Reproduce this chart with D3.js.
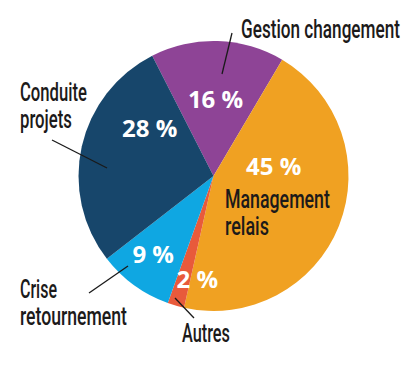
<!DOCTYPE html>
<html>
<head>
<meta charset="utf-8">
<script src="https://cdn.jsdelivr.net/npm/d3@7"></script>
<style>
  html, body { margin: 0; padding: 0; background: #ffffff; }
  svg { display: block; }
</style>
</head>
<body>
<svg id="chart" width="411" height="365"></svg>
<script>
// ---- Data ----
const categories = ["Gestion changement", "Management relais", "Autres", "Crise retournement", "Conduite projets"];
const values = [16, 45, 2, 9, 28];
const percentLabels = ["16 %", "45 %", "2 %", "9 %", "28 %"];
const colors = ["#8e4496", "#f0a122", "#e85a3b", "#0fa7e2", "#17466b"];

// ---- Layout (annotation placement, not data) ----
const cx = 213.5, cy = 176, R = 135;
const startDeg = -27;
// percent label placement: [angle deg clockwise from 12 o'clock, radius]
const pctPos = [[1.5, 78], [80.5, 61], [189, 104], [218, 98], [307, 80]];
// category labels: lines, x, first baseline, target widths per line
const catLabel = [
  { lines: ["Gestion changement"], x: 241, y: 38, widths: [159] },
  { lines: ["Management", "relais"], x: 225, y: 208, widths: [105, 44] },
  { lines: ["Autres"], x: 182, y: 342, widths: [48] },
  { lines: ["Crise", "retournement"], x: 20, y: 298, widths: [37, 107] },
  { lines: ["Conduite", "projets"], x: 20, y: 101, widths: [67, 52] }
];
const lineH = 27;
// leader lines [x1,y1,x2,y2] (null = none)
const leaders = [
  [232, 33, 222, 74],
  null,
  [194, 318, 175, 298],
  [89, 293, 128, 266],
  [52, 140, 107, 168]
];

const svg = d3.select("#chart");
const g = svg.append("g").attr("transform", `translate(${cx},${cy})`);

const pie = d3.pie()
  .value(d => d)
  .sort(null)
  .startAngle(startDeg * Math.PI / 180)
  .endAngle((startDeg + 360) * Math.PI / 180);

const arc = d3.arc().innerRadius(0).outerRadius(R);
const arcs = pie(values);

g.selectAll("path.slice")
  .data(arcs)
  .join("path")
  .attr("class", "slice")
  .attr("d", arc)
  .attr("fill", (d, i) => colors[i]);

// percent labels
g.selectAll("text.pct")
  .data(arcs)
  .join("text")
  .attr("class", "pct")
  .attr("transform", (d, i) => {
    const p = d3.pointRadial(pctPos[i][0] * Math.PI / 180, pctPos[i][1]);
    return `translate(${p[0]},${p[1]})`;
  })
  .attr("text-anchor", "middle")
  .attr("dominant-baseline", "central")
  .attr("font-family", "'Open Sans', 'DejaVu Sans', sans-serif")
  .attr("font-weight", 700)
  .attr("font-size", 24)
  .attr("fill", "#ffffff")
  .text((d, i) => percentLabels[i]);

// leader lines
svg.selectAll("line.leader")
  .data(leaders.filter(l => l))
  .join("line")
  .attr("class", "leader")
  .attr("x1", d => d[0]).attr("y1", d => d[1])
  .attr("x2", d => d[2]).attr("y2", d => d[3])
  .attr("stroke", "#1a1a1a")
  .attr("stroke-width", 1.3);

// category labels (condensed by horizontal scaling to mimic a condensed face)
catLabel.forEach((c) => {
  c.lines.forEach((ln, k) => {
    const grp = svg.append("g");
    const t = grp.append("text")
      .attr("x", 0).attr("y", 0)
      .attr("font-family", "Roboto, 'Liberation Sans', sans-serif")
      .attr("font-weight", 500)
      .attr("font-size", 25)
      .attr("fill", "#1c1a1a")
      .text(ln);
    const w = t.node().getComputedTextLength();
    const sx = c.widths[k] / w;
    grp.attr("transform", `translate(${c.x},${c.y + k * lineH}) scale(${sx},1)`);
  });
});
</script>
</body>
</html>
